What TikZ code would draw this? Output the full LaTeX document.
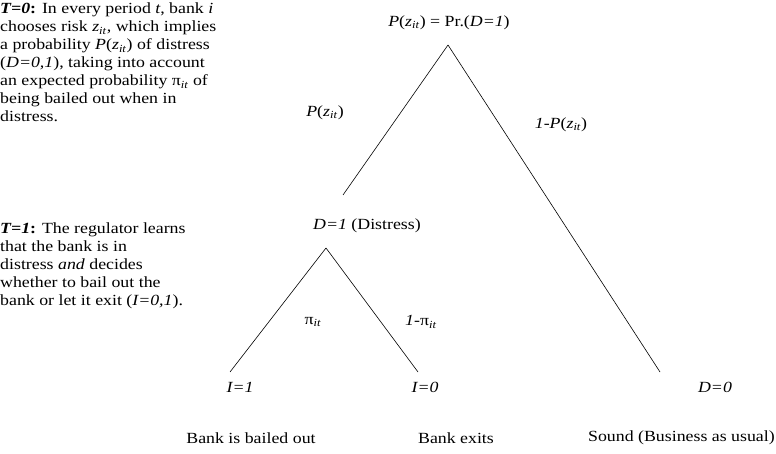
\documentclass[tikz,border=0pt]{standalone}
\usepackage{fontspec}
\setmainfont{Liberation Serif}[FakeStretch=1.15]
\usetikzlibrary{positioning}

\newcommand{\zit}{\textit{z}\textsubscript{\textit{it}}}
\newcommand{\piit}{π\textsubscript{\textit{it}}}

\tikzset{
  lbl/.style={inner sep=0pt, font=\fontsize{15.5}{18}\selectfont},
  note/.style={lbl, align=left, anchor=north west},
  branch/.style={line width=0.6pt},
}

\begin{document}
\begin{tikzpicture}[x=1pt,y=-1pt]
    \useasboundingbox (0,0) rectangle (776,454);

    % Stages of the game
    \node[note] (stagezero) at (0,3) {\textbf{\textit{T=0}:} In every period \textit{t}, bank \textit{i}\\
        chooses risk \zit, which implies\\
        a probability \textit{P}(\zit) of distress\\
        (\textit{D=0,1}), taking into account\\
        an expected probability \piit{} of\\
        being bailed out when in\\
        distress.};
    \node[note] (stageone) at (0,223) {\textbf{\textit{T=1}:} The regulator learns\\
        that the bank is in\\
        distress \textit{and} decides\\
        whether to bail out the\\
        bank or let it exit (\textit{I=0,1}).};

    % Branch points of the tree
    \coordinate (root) at (448,45);
    \coordinate (distress) at (343,195);
    \coordinate (fork) at (326,248);
    \coordinate (bailed) at (230,372);
    \coordinate (exits) at (418,372);
    \coordinate (sound) at (660,372);

    % Branches
    \draw[branch] (root) -- (distress);
    \draw[branch] (root) -- (sound);
    \draw[branch] (fork) -- (bailed);
    \draw[branch] (fork) -- (exits);

    % Node labels
    \node[lbl] (toplabel) at (449,23) {\textit{P}(\zit) = Pr.(\textit{D=1})};
    \node[lbl] (distlabel) at (367,226) {\textit{D=1} (Distress)};
    \node[lbl] (ionelabel) at (240,387) {\textit{I=1}};
    \node[lbl] (izerolabel) at (425,387) {\textit{I=0}};
    \node[lbl] (dzerolabel) at (715,387) {\textit{D=0}};

    % Probabilities on the branches
    \node[lbl] (pzit) at (325,113) {\textit{P}(\zit)};
    \node[lbl] (onepzit) at (561,125) {\textit{1-P}(\zit)};
    \node[lbl] (pibail) at (313,322) {\piit};
    \node[lbl] (piexit) at (421,322) {\textit{1-}\piit};

    % Outcomes
    \node[lbl] (outbail) at (251,438) {Bank is bailed out};
    \node[lbl] (outexit) at (456,438) {Bank exits};
    \node[lbl, anchor=east] (outsound) at (775,438) {Sound (Business as usual)};
\end{tikzpicture}
\end{document}
